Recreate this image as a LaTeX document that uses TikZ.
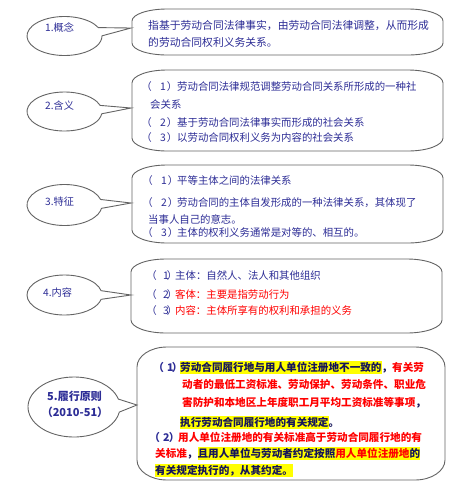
\documentclass[tikz,border=0pt]{standalone}
\usepackage{fontspec}
\setmainfont{Noto Sans CJK SC}
\usetikzlibrary{shapes.callouts}
\definecolor{navy}{RGB}{45,45,150}
\definecolor{dnavy}{RGB}{20,20,90}
\definecolor{edgegray}{RGB}{100,100,100}
\definecolor{hlyellow}{RGB}{255,255,0}
\definecolor{tred}{RGB}{255,0,0}
% width, number, digit offset, closing paren offset
\newcommand\pmark[4]{\makebox[#1][l]{\rlap{\kern-0.55em（}\rlap{\kern#3\relax #2}\rlap{\kern#4\kern-0.12em）}}}
\newcommand\hlt[1]{{\fboxsep=0pt\colorbox{hlyellow}{\rule[-0.25em]{0pt}{1.15em}#1}}}
\newcommand\ovalbox[6]{%
  \draw[boxline] (#1,#2+#6) -- (#1,#4-#6)
    arc[start angle=180,end angle=90,x radius=#5,y radius=#6] -- (#3-#5,#4)
    arc[start angle=90,end angle=0,x radius=#5,y radius=#6] -- (#3,#2+#6)
    arc[start angle=0,end angle=-90,x radius=#5,y radius=#6] -- (#1+#5,#2)
    arc[start angle=-90,end angle=-180,x radius=#5,y radius=#6] -- cycle;}
\tikzset{
  boxline/.style={draw=edgegray, line width=0.9pt, fill=white},
  ecall/.style={ellipse callout, draw=edgegray, line width=0.9pt, fill=white,
    minimum width=75pt, minimum height=39pt, inner sep=0pt, callout pointer arc=25},
  lbl/.style={anchor=base west, inner sep=0pt, text=navy,
    font=\fontsize{10.2pt}{12pt}\selectfont, yshift=-3.9pt},
  ta/.style={anchor=base west, inner sep=0pt, text=navy,
    font=\fontsize{10.8pt}{13pt}\selectfont, yshift=-4.1pt},
  tb/.style={anchor=base west, inner sep=0pt, text=navy,
    font=\fontsize{10.4pt}{12pt}\selectfont, yshift=-3.95pt},
  tc/.style={anchor=base west, inner sep=0pt, text=dnavy,
    font=\fontsize{10.6pt}{12pt}\selectfont\bfseries, yshift=-4pt},
  lblb/.style={anchor=base, inner sep=0pt, text=navy,
    font=\fontsize{11pt}{13pt}\selectfont\bfseries, yshift=-4.2pt},
}
\begin{document}
\begin{tikzpicture}[x=1pt,y=-1pt]
\useasboundingbox[fill=white] (0,0) rectangle (460,491);

% ---------- boxes ----------
\ovalbox{132}{9}{443}{55}{35}{12}
\ovalbox{132}{70}{443}{151}{35}{13}
\ovalbox{132}{165}{443}{243}{35}{13}
\ovalbox{131}{259}{442}{333}{35}{13}
\ovalbox{137}{347}{445}{480}{30}{20}

% ---------- pointer targets ----------
\coordinate (t1) at (131,28);
\coordinate (t2) at (131,108);
\coordinate (t3) at (131,203);
\coordinate (t4) at (131,295);
\coordinate (t5) at (137,405);

% ---------- ellipse callouts ----------
\node[ecall, callout absolute pointer=(t1)] (e1) at (64.5,36) {};
\node[ecall, callout absolute pointer=(t2)] (e2) at (64.5,111.5) {};
\node[ecall, callout absolute pointer=(t3), minimum height=41pt] (e3) at (64.5,205) {};
\node[ecall, callout absolute pointer=(t4), minimum height=40pt] (e4) at (64.5,295) {};
\node[ecall, callout absolute pointer=(t5), minimum width=92pt, minimum height=60pt] (e5) at (74,407) {};

% ---------- labels ----------
\node[lbl] (l1) at (45,28) {1.概念};
\node[lbl] (l2) at (45,106) {2.含义};
\node[lbl] (l3) at (45,202) {3.特征};
\node[lbl] (l4) at (43,293) {4.内容};
\node[lblb] (l5a) at (74.5,396) {5.履行原则};
\node[lblb] (l5b) at (75,412) {（2010-51）};

% ---------- row 1 ----------
\node[ta] (r1a) at (148,25) {指基于劳动合同法律事实，由劳动合同法律调整，从而形成};
\node[ta] (r1b) at (148,42) {的劳动合同权利义务关系。};

% ---------- row 2 ----------
\node[tb] (r2a) at (147,87) {\pmark{30pt}{1}{13pt}{21pt}劳动合同法律规范调整劳动合同关系所形成的一种社};
\node[tb] (r2b) at (150,105) {会关系};
\node[tb] (r2c) at (147,123) {\pmark{30pt}{2}{13pt}{21pt}基于劳动合同法律事实而形成的社会关系};
\node[tb] (r2d) at (147,138) {\pmark{30pt}{3}{13pt}{21pt}以劳动合同权利义务为内容的社会关系};

% ---------- row 3 ----------
\node[tb] (r3a) at (148,181) {\pmark{29pt}{1}{13pt}{21pt}平等主体之间的法律关系};
\node[tb] (r3b) at (148,203) {\pmark{29pt}{2}{13pt}{21pt}劳动合同的主体自发形成的一种法律关系，其体现了};
\node[tb] (r3c) at (148,220) {当事人自己的意志。};
\node[tb] (r3d) at (148,233) {\pmark{29pt}{3}{13pt}{21pt}主体的权利义务通常是对等的、相互的。};

% ---------- row 4 ----------
\node[tb] (r4a) at (152,276) {\pmark{23pt}{1}{11pt}{16pt}主体：自然人、法人和其他组织};
\node[tb] (r4b) at (152,295) {\pmark{23pt}{2}{11pt}{16pt}\color{tred}客体：主要是指劳动行为};
\node[tb] (r4c) at (152,311) {\pmark{23pt}{3}{11pt}{16pt}\color{tred}内容：主体所享有的权利和承担的义务};

% ---------- row 5 ----------
\node[tc] (r5a) at (159,367) {{\color{navy}\pmark{21pt}{1}{8pt}{14pt}}\hlt{劳动合同履行地与用人单位注册地不一致的}，\color{tred}有关劳};
\node[tc, text=tred] (r5b) at (182,384) {动者的最低工资标准、劳动保护、劳动条件、职业危};
\node[tc, text=tred] (r5c) at (182,402) {害防护和本地区上年度职工月平均工资标准等事项{\color{dnavy}，}};
\node[tc] (r5d) at (180,422) {\hlt{执行劳动合同履行地的有关规定}。};
\node[tc] (r5e) at (155,437) {{\color{navy}\pmark{23pt}{2}{8pt}{15pt}}\color{tred}用人单位注册地的有关标准高于劳动合同履行地的有};
\node[tc] (r5f) at (155,453) {{\color{tred}关标准}，\hlt{且用人单位与劳动者约定按照{\color{tred}用人单位注册地}的}};
\node[tc] (r5g) at (155,470) {\hlt{有关规定执行的，从其约定。}};
\end{tikzpicture}
\end{document}
